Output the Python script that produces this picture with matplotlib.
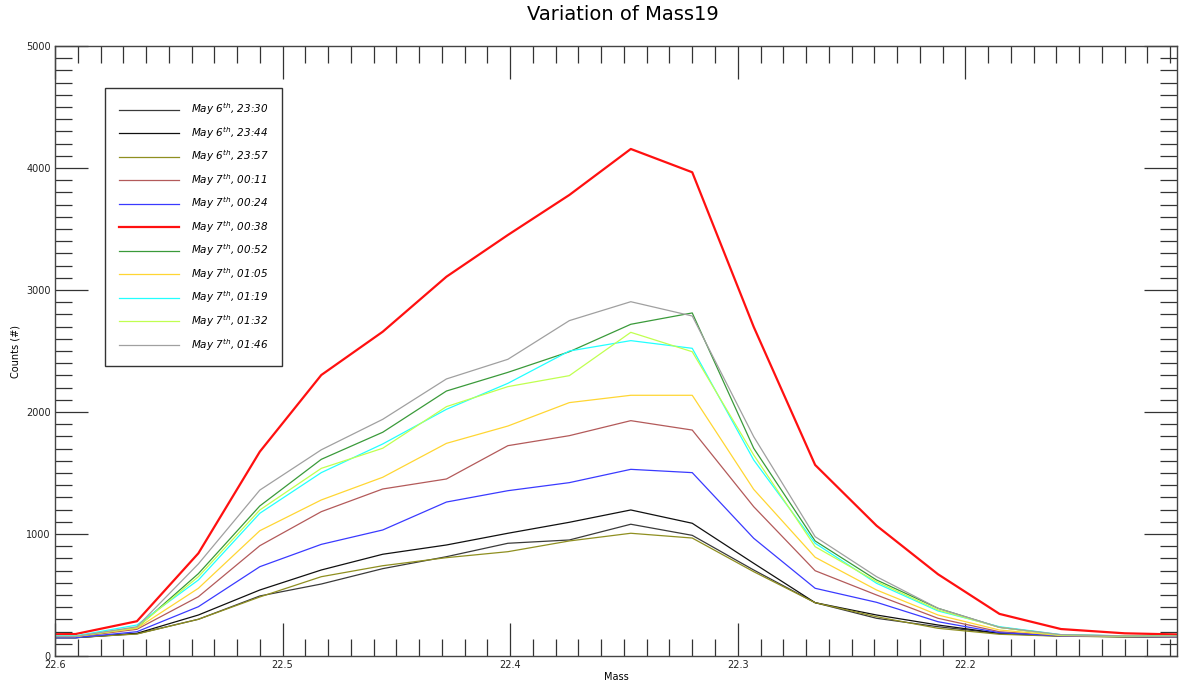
import matplotlib
matplotlib.use("Agg")
import matplotlib.pyplot as plt
from matplotlib.ticker import MultipleLocator

# Mass axis positions of the scan points
mass = [22.618, 22.591, 22.564, 22.537, 22.510, 22.483, 22.456, 22.428, 22.401, 22.374,
        22.347, 22.320, 22.293, 22.266, 22.239, 22.212, 22.185, 22.158, 22.130, 22.103]

labels = ["May 6$^{th}$, 23:30", "May 6$^{th}$, 23:44", "May 6$^{th}$, 23:57",
          "May 7$^{th}$, 00:11", "May 7$^{th}$, 00:24", "May 7$^{th}$, 00:38",
          "May 7$^{th}$, 00:52", "May 7$^{th}$, 01:05", "May 7$^{th}$, 01:19",
          "May 7$^{th}$, 01:32", "May 7$^{th}$, 01:46"]

s_2330 = [150, 150, 182, 301, 492, 590, 716, 814, 924, 951,
          1080, 989, 705, 437, 309, 240, 184, 163, 158, 155]
s_2344 = [150, 150, 186, 336, 541, 705, 834, 910, 1006, 1096,
          1197, 1088, 760, 437, 336, 254, 186, 165, 158, 155]
s_2357 = [152, 152, 180, 301, 484, 650, 740, 806, 855, 943,
          1006, 967, 691, 437, 322, 227, 178, 162, 157, 155]
s_0011 = [155, 155, 219, 486, 904, 1183, 1369, 1451, 1724, 1806,
          1929, 1852, 1224, 699, 500, 309, 199, 165, 160, 158]
s_0024 = [150, 150, 199, 404, 732, 915, 1033, 1262, 1355, 1421,
          1530, 1503, 965, 555, 440, 281, 191, 165, 160, 155]
s_0038 = [175, 180, 285, 842, 1675, 2303, 2658, 3109, 3451, 3779,
          4156, 3965, 2698, 1566, 1068, 670, 345, 221, 186, 175]
s_0052 = [160, 160, 232, 675, 1230, 1612, 1834, 2172, 2325, 2494,
          2719, 2812, 1703, 943, 623, 391, 235, 172, 165, 160]
s_0105 = [160, 160, 227, 555, 1027, 1279, 1465, 1743, 1885, 2077,
          2137, 2137, 1366, 809, 541, 336, 213, 168, 162, 158]
s_0119 = [165, 165, 254, 623, 1170, 1503, 1738, 2022, 2235, 2500,
          2585, 2522, 1607, 924, 596, 369, 240, 175, 165, 160]
s_0132 = [160, 160, 235, 650, 1197, 1538, 1703, 2044, 2208, 2298,
          2653, 2494, 1648, 896, 609, 377, 235, 170, 165, 160]
s_0146 = [160, 160, 240, 755, 1360, 1690, 1940, 2271, 2432, 2749,
          2904, 2787, 1798, 978, 650, 391, 235, 175, 165, 160]

series = [s_2330, s_2344, s_2357, s_0011, s_0024, s_0038,
          s_0052, s_0105, s_0119, s_0132, s_0146]
colors = ["#3a3a3a", "#101010", "#8f8f20", "#b35a5a", "#3a3aff", "#ff1010",
          "#3a9a3a", "#ffd633", "#22ffff", "#c0ff50", "#a0a0a0"]
widths = [0.9, 0.9, 0.9, 0.9, 0.9, 1.6, 0.9, 0.9, 0.9, 0.9, 0.9]

fig = plt.figure(figsize=(11.93, 6.92), dpi=100)
ax = fig.add_axes([55 / 1193, 1 - 656 / 692, (1177 - 55) / 1193, (656 - 46) / 692])

for y, c, w, lab in zip(series, colors, widths, labels):
    ax.plot(mass, y, color=c, lw=w, label=lab)

ax.set_xlim(22.6, 22.107)
ax.set_ylim(0, 5000)
ax.xaxis.set_major_locator(MultipleLocator(0.1))
ax.xaxis.set_minor_locator(MultipleLocator(0.01))
ax.yaxis.set_major_locator(MultipleLocator(1000))
ax.yaxis.set_minor_locator(MultipleLocator(100))
ax.xaxis.set_major_formatter(plt.FuncFormatter(lambda v, p: f"{v:.1f}"))
ax.yaxis.set_major_formatter(plt.FuncFormatter(lambda v, p: f"{v:.0f}"))

ax.tick_params(which="both", direction="in", top=True, right=True,
               color="#333333", width=0.9, labelsize=7, labelcolor="#222222")
ax.tick_params(which="major", length=24, pad=3)
ax.tick_params(which="minor", length=12)
for sp in ax.spines.values():
    sp.set_color("#444444")
    sp.set_linewidth(1.0)

ax.set_xlabel("Mass", fontsize=7, labelpad=1)
ax.set_ylabel("Counts (#)", fontsize=7)
ax.yaxis.set_label_coords(-0.031, 0.5)

fig.text(623 / 1193, 1 - 15 / 692, "Variation of Mass19", ha="center", va="center",
         fontsize=14)

leg = ax.legend(loc="upper left", bbox_to_anchor=(0.0446, 0.931), borderaxespad=0,
                prop={"style": "italic", "size": 7.5},
                handlelength=5.8, handletextpad=1.15, labelspacing=0.74,
                borderpad=1.3, fancybox=False, framealpha=1, edgecolor="#333333")
leg.get_frame().set_linewidth(1.0)

fig.savefig("out.png", dpi=100)
